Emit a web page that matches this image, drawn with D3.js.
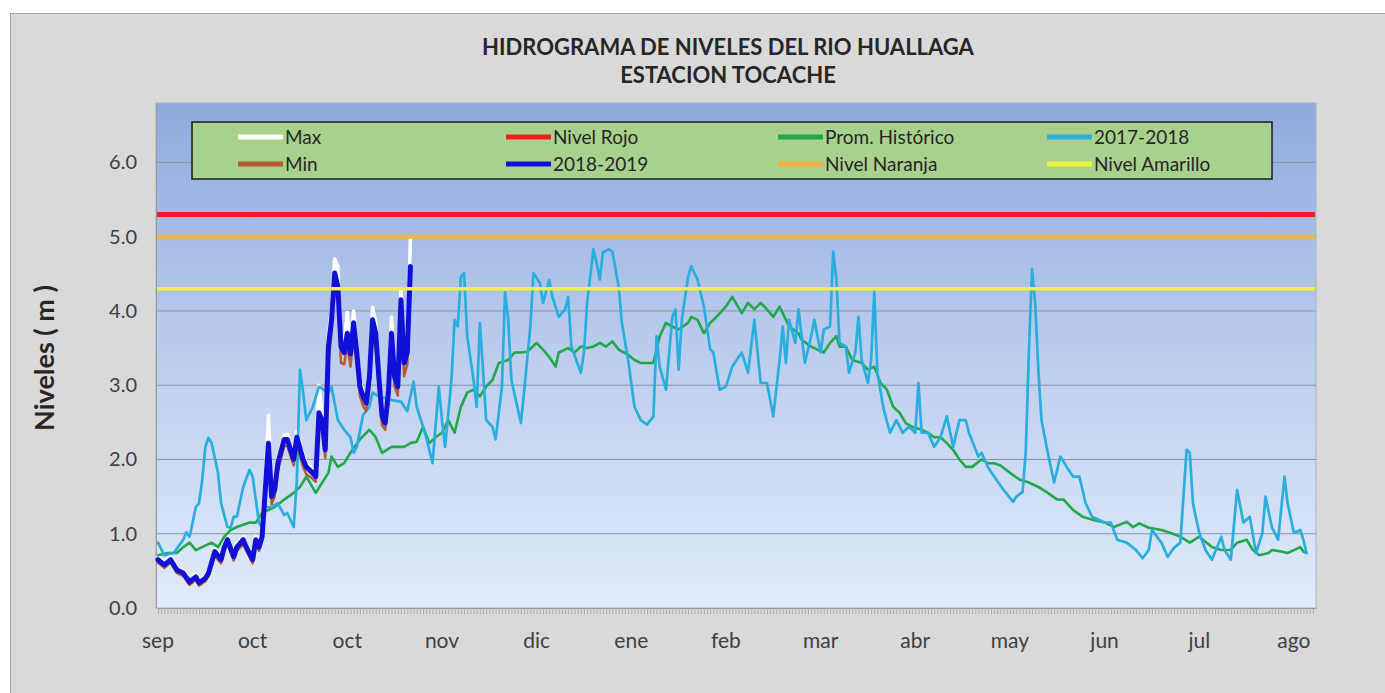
<!DOCTYPE html>
<html><head><meta charset="utf-8">
<script src="https://cdn.jsdelivr.net/npm/d3@7/dist/d3.min.js"></script>
<style>
body{margin:0;background:#fff;}
svg{display:block;}
text{font-family:Lato,"Open Sans",sans-serif;}
</style>
</head><body>
<svg id="chart" width="1385" height="693"></svg>
<script>
// ---------- DATA ----------
const titleLines = ["HIDROGRAMA DE NIVELES DEL RIO HUALLAGA", "ESTACION TOCACHE"];
const yAxisTitle = "Niveles ( m )";
const monthLabels = ["sep","oct","oct","nov","dic","ene","feb","mar","abr","may","jun","jul","ago"];
const monthTickDays = [0,30,60,90,120,150,180,210,240,270,300,330,360];
const yTicks = [0,1,2,3,4,5,6];
const nivelRojo = 5.3;
const nivelNaranja = 5.0;
const nivelAmarillo = 4.3;

// [day of hydrological year (0 = 1 sep), level in m]
const promHistorico = [[0,0.71],[3,0.74],[6,0.74],[8,0.82],[10,0.88],[12,0.78],[14,0.82],[17,0.88],[19,0.82],[21,0.96],[23,1.05],[25,1.09],[27,1.12],[29,1.15],[31,1.15],[33,1.28],[37,1.36],[40,1.46],[43,1.55],[45,1.63],[47,1.77],[50,1.55],[54,1.82],[55,2.04],[57,1.90],[59,1.95],[61,2.09],[64,2.27],[67,2.40],[69,2.30],[71,2.09],[74,2.17],[76,2.17],[78,2.17],[80,2.22],[82,2.24],[84,2.44],[86,2.22],[88,2.30],[90,2.36],[92,2.53],[94,2.36],[96,2.71],[98,2.90],[100,2.94],[102,2.85],[104,2.98],[106,3.07],[108,3.30],[111,3.34],[113,3.44],[115,3.44],[117,3.45],[120,3.57],[122,3.48],[124,3.38],[126,3.25],[127,3.44],[130,3.50],[132,3.44],[134,3.52],[136,3.50],[138,3.52],[140,3.57],[142,3.52],[144,3.59],[146,3.48],[149,3.41],[151,3.34],[153,3.30],[155,3.30],[157,3.30],[159,3.66],[161,3.84],[163,3.79],[165,3.75],[168,3.84],[169,3.92],[171,3.88],[173,3.70],[175,3.84],[177,3.92],[180,4.06],[182,4.19],[185,3.97],[187,4.11],[189,4.02],[191,4.11],[193,4.02],[195,3.92],[197,4.06],[199,3.88],[200,3.79],[203,3.70],[204,3.61],[207,3.52],[209,3.48],[211,3.44],[213,3.57],[215,3.66],[216,3.52],[218,3.52],[220,3.34],[223,3.30],[225,3.21],[227,3.25],[229,3.03],[231,2.94],[233,2.71],[235,2.63],[237,2.49],[239,2.44],[242,2.40],[244,2.36],[246,2.30],[248,2.30],[250,2.22],[252,2.13],[254,2.00],[256,1.90],[258,1.90],[261,2.00],[263,1.95],[265,1.95],[267,1.92],[270,1.82],[273,1.73],[276,1.69],[279,1.63],[282,1.55],[285,1.46],[287,1.46],[290,1.32],[293,1.23],[296,1.19],[300,1.15],[303,1.09],[307,1.16],[309,1.09],[311,1.14],[314,1.08],[318,1.05],[321,1.01],[324,0.96],[327,0.88],[330,0.96],[334,0.82],[337,0.78],[340,0.78],[342,0.88],[345,0.92],[347,0.78],[349,0.71],[352,0.74],[353,0.78],[356,0.76],[358,0.74],[360,0.78],[362,0.82],[363,0.76],[364,0.74]];

const serie20172018 = [[0,0.88],[2,0.71],[5,0.74],[8,0.92],[9,1.02],[10,0.96],[12,1.36],[13,1.41],[14,1.72],[15,2.17],[16,2.29],[17,2.22],[19,1.82],[20,1.41],[22,1.09],[23,1.08],[24,1.23],[25,1.23],[27,1.63],[29,1.86],[30,1.77],[32,1.15],[33,1.09],[34,1.36],[36,1.36],[38,1.41],[40,1.25],[41,1.28],[43,1.09],[44,1.72],[45,3.21],[46,2.90],[47,2.53],[49,2.70],[51,2.98],[54,2.90],[55,2.98],[57,2.53],[59,2.40],[61,2.30],[62,2.09],[63,2.17],[65,2.60],[67,2.71],[68,2.90],[70,2.85],[74,2.80],[77,2.78],[79,2.65],[81,3.05],[82,2.71],[84,2.44],[85,2.30],[87,1.95],[89,2.98],[90,2.53],[91,2.17],[93,3.07],[94,3.88],[95,3.79],[96,4.46],[97,4.51],[98,3.66],[100,3.07],[101,2.71],[102,3.84],[103,3.21],[104,2.53],[106,2.44],[107,2.27],[109,2.98],[110,4.25],[111,3.88],[112,3.07],[115,2.49],[116,2.90],[118,3.79],[119,4.51],[121,4.38],[122,4.11],[124,4.42],[125,4.19],[127,3.92],[129,4.02],[130,4.19],[131,3.52],[134,3.17],[135,3.44],[136,4.11],[138,4.83],[139,4.65],[140,4.42],[141,4.79],[143,4.83],[144,4.80],[146,4.33],[147,3.84],[149,3.34],[151,2.71],[153,2.53],[155,2.47],[157,2.58],[158,3.66],[159,3.25],[161,2.94],[163,3.92],[164,4.02],[165,3.21],[166,3.88],[168,4.46],[169,4.60],[171,4.42],[173,4.06],[175,3.48],[176,3.44],[178,2.94],[180,2.98],[182,3.25],[184,3.38],[185,3.44],[187,3.17],[189,3.88],[191,3.03],[193,3.03],[195,2.58],[197,3.34],[198,3.79],[199,3.30],[200,3.88],[202,3.57],[203,4.02],[205,3.30],[207,3.66],[208,3.88],[210,3.44],[211,3.75],[213,3.79],[214,4.80],[215,4.42],[216,3.57],[218,3.52],[219,3.17],[221,3.44],[222,3.92],[223,3.34],[225,3.03],[226,3.34],[227,4.26],[228,3.17],[230,2.67],[232,2.36],[234,2.53],[236,2.36],[238,2.44],[240,2.36],[241,3.03],[242,2.36],[244,2.36],[246,2.17],[248,2.30],[250,2.58],[252,2.17],[254,2.53],[256,2.53],[257,2.36],[260,2.04],[261,2.09],[263,1.90],[265,1.77],[268,1.59],[271,1.43],[272,1.50],[274,1.56],[275,2.09],[276,3.44],[277,4.56],[278,4.11],[279,3.21],[280,2.53],[282,2.09],[284,1.69],[286,2.04],[288,1.90],[290,1.77],[292,1.77],[294,1.41],[296,1.23],[300,1.15],[302,1.15],[304,0.92],[307,0.88],[310,0.78],[312,0.67],[314,0.78],[315,1.05],[318,0.88],[320,0.69],[322,0.81],[324,0.88],[326,2.13],[327,2.09],[328,1.41],[330,1.01],[332,0.78],[334,0.65],[337,0.96],[338,0.78],[340,0.65],[342,1.59],[344,1.15],[346,1.23],[348,0.74],[350,1.01],[351,1.50],[353,1.09],[355,0.92],[357,1.77],[358,1.41],[360,1.01],[362,1.05],[363,0.92],[364,0.74]];

const serie20182019 = [[0,0.65],[2,0.58],[4,0.65],[6,0.51],[8,0.47],[10,0.35],[12,0.42],[13,0.34],[15,0.40],[16,0.47],[18,0.76],[20,0.65],[21,0.82],[22,0.92],[24,0.69],[25,0.82],[27,0.92],[28,0.82],[30,0.65],[31,0.92],[32,0.82],[33,0.96],[34,1.59],[35,2.22],[36,1.50],[37,1.60],[38,1.95],[40,2.27],[41,2.27],[43,2.00],[44,2.30],[46,2.00],[47,1.90],[49,1.82],[50,1.77],[51,2.63],[52,2.53],[53,2.13],[54,3.52],[55,3.88],[56,4.51],[57,4.33],[58,3.52],[59,3.44],[60,3.70],[61,3.42],[62,3.84],[63,3.44],[64,2.98],[65,2.85],[66,2.76],[67,3.11],[68,3.88],[69,3.70],[70,3.11],[71,2.58],[72,2.49],[73,2.90],[74,3.70],[75,3.11],[76,2.98],[77,4.15],[78,3.30],[79,3.44],[80,4.60]];

const serieMax = [[0,0.69],[2,0.62],[4,0.69],[6,0.55],[8,0.51],[10,0.39],[12,0.46],[13,0.38],[15,0.44],[16,0.51],[18,0.80],[20,0.69],[21,0.86],[22,0.96],[24,0.73],[25,0.86],[27,0.96],[28,0.86],[30,0.69],[31,0.96],[32,0.86],[33,1.02],[34,1.75],[35,2.60],[36,1.56],[37,1.66],[38,2.01],[40,2.33],[41,2.34],[43,2.06],[44,2.38],[46,2.06],[47,1.95],[49,1.87],[50,1.83],[51,3.00],[52,2.62],[53,2.20],[54,3.65],[55,4.05],[56,4.70],[57,4.60],[58,3.62],[59,3.55],[60,3.98],[61,3.50],[62,4.00],[63,3.55],[64,3.06],[65,2.92],[66,2.83],[67,3.20],[68,4.05],[69,3.85],[70,3.20],[71,2.65],[72,2.56],[73,2.98],[74,3.92],[75,3.20],[76,3.06],[77,4.30],[78,3.40],[79,3.55],[80,4.97]];

const serieMin = [[0,0.61],[2,0.54],[4,0.61],[6,0.47],[8,0.43],[10,0.31],[12,0.38],[13,0.30],[15,0.36],[16,0.43],[18,0.70],[20,0.60],[21,0.77],[22,0.86],[24,0.64],[25,0.77],[27,0.86],[28,0.77],[30,0.60],[31,0.85],[32,0.77],[33,0.90],[34,1.45],[35,2.05],[36,1.40],[37,1.50],[38,1.85],[40,2.18],[41,2.18],[43,1.92],[44,2.20],[46,1.90],[47,1.80],[49,1.74],[50,1.70],[51,2.45],[52,2.40],[53,2.02],[54,3.30],[55,3.70],[56,4.35],[57,4.15],[58,3.30],[59,3.28],[60,3.55],[61,3.25],[62,3.65],[63,3.25],[64,2.85],[65,2.72],[66,2.65],[67,2.95],[68,3.70],[69,3.52],[70,2.98],[71,2.46],[72,2.40],[73,2.75],[74,3.50],[75,2.98],[76,2.86],[77,3.95],[78,3.12],[79,3.28],[80,4.35]];

// legend order (row-wise, as in the original)
const legendItems = [
  {name:"Max", key:"max"},
  {name:"Nivel Rojo", key:"rojo"},
  {name:"Prom. Histórico", key:"prom"},
  {name:"2017-2018", key:"s1718"},
  {name:"Min", key:"min"},
  {name:"2018-2019", key:"s1819"},
  {name:"Nivel Naranja", key:"naranja"},
  {name:"Nivel Amarillo", key:"amarillo"}
];

// ---------- STYLE ----------
const styles = {
  max:{color:"#ffffff", width:3.5},
  rojo:{color:"#ff1a1a", width:5},
  prom:{color:"#21a84a", width:2.6},
  s1718:{color:"#2aaede", width:2.7},
  min:{color:"#b65a32", width:2.5},
  s1819:{color:"#1010d8", width:5},
  naranja:{color:"#f0b43c", width:4},
  amarillo:{color:"#eef53a", width:3.5}
};

const svg = d3.select("#chart");
const W = 1385, H = 693;
const plot = {left:156, right:1316, top:103, bottom:608};

// outer chart area
svg.append("rect").attr("x",10.5).attr("y",13.5).attr("width",W).attr("height",H)
  .attr("fill","#d9d9d9").attr("stroke","#a6a6a6").attr("stroke-width",1);

// gradient
const defs = svg.append("defs");
const grad = defs.append("linearGradient").attr("id","bg").attr("x1",0).attr("y1",0).attr("x2",0).attr("y2",1);
grad.append("stop").attr("offset","0%").attr("stop-color","#8eaadc");
grad.append("stop").attr("offset","50%").attr("stop-color","#bccdee");
grad.append("stop").attr("offset","100%").attr("stop-color","#e0ebfa");

const x = d3.scaleLinear().domain([0,367]).range([158, plot.right]);
const y = d3.scaleLinear().domain([0,6.8]).range([plot.bottom, plot.top]);

svg.append("rect").attr("x",plot.left).attr("y",plot.top)
  .attr("width",plot.right-plot.left).attr("height",plot.bottom-plot.top)
  .attr("fill","url(#bg)").attr("stroke","#a9b4c4").attr("stroke-width",1);

// gridlines
svg.append("g").selectAll("line").data(yTicks.filter(d=>d>0)).join("line")
  .attr("x1",plot.left).attr("x2",plot.right)
  .attr("y1",d=>y(d)).attr("y2",d=>y(d))
  .attr("stroke","#8793a6").attr("stroke-width",1);

// y axis
const yAxis = svg.append("g").attr("transform",`translate(${plot.left},0)`)
  .call(d3.axisLeft(y).tickValues(yTicks).tickFormat(d3.format(".1f")).tickSize(0).tickPadding(19));
yAxis.select(".domain").attr("stroke","#9a9a9a");
yAxis.selectAll("text").attr("font-size",20).attr("fill","#404040");

// x axis: daily minor ticks
const xAxis = svg.append("g").attr("transform",`translate(0,${plot.bottom})`)
  .call(d3.axisBottom(x).tickValues(d3.range(0,367)).tickFormat("").tickSize(6).tickSizeOuter(0));
xAxis.select(".domain").attr("stroke","#9a9a9a");
xAxis.selectAll(".tick line").attr("stroke","#a0a0a0").attr("stroke-width",0.8);

svg.append("g").selectAll("text").data(monthTickDays).join("text")
  .attr("x",d=>x(d)).attr("y",plot.bottom+40)
  .attr("text-anchor","middle").attr("font-size",21).attr("fill","#404040")
  .text((d,i)=>monthLabels[i]);

// titles
svg.append("g").selectAll("text").data(titleLines).join("text")
  .attr("x",728).attr("y",(d,i)=>55+i*28)
  .attr("text-anchor","middle").attr("font-size",22).attr("font-weight","bold").attr("fill","#262626")
  .text(d=>d);

svg.append("text").attr("transform","translate(54,358) rotate(-90)")
  .attr("text-anchor","middle").attr("font-size",27).attr("font-weight","bold").attr("fill","#262626")
  .text(yAxisTitle);

// series
const line = d3.line().x(d=>x(d[0])).y(d=>y(d[1]));
const seriesData = {
  max: serieMax, prom: promHistorico, s1718: serie20172018, min: serieMin, s1819: serie20182019
};
const levels = {rojo:nivelRojo, naranja:nivelNaranja, amarillo:nivelAmarillo};
const gSeries = svg.append("g");
legendItems.forEach(it=>{
  const st = styles[it.key];
  if (levels[it.key] !== undefined) {
    gSeries.append("line").attr("x1",plot.left+1).attr("x2",plot.right-1)
      .attr("y1",y(levels[it.key])).attr("y2",y(levels[it.key]))
      .attr("stroke",st.color).attr("stroke-width",st.width);
  } else {
    gSeries.append("path").datum(seriesData[it.key]).attr("d",line)
      .attr("fill","none").attr("stroke",st.color).attr("stroke-width",st.width)
      .attr("stroke-linejoin","round").attr("stroke-linecap","round");
  }
});

// legend
const lg = {x:192, y:122, w:1080, h:57};
svg.append("rect").attr("x",lg.x).attr("y",lg.y).attr("width",lg.w).attr("height",lg.h)
  .attr("fill","#a9d18e").attr("stroke","#1a1a1a").attr("stroke-width",1.5);
const colX = [238, 506, 778, 1047];
const rowY = [137, 164];
const leg = svg.append("g").selectAll("g").data(legendItems).join("g")
  .attr("transform",(d,i)=>`translate(${colX[i%4]},${rowY[Math.floor(i/4)]})`);
leg.append("line").attr("x1",0).attr("x2",45).attr("y1",0).attr("y2",0)
  .attr("stroke",d=>styles[d.key].color).attr("stroke-width",5);
leg.append("text").attr("x",47).attr("y",7).attr("font-size",19).attr("fill","#262626")
  .text(d=>d.name);
</script>
</body></html>
